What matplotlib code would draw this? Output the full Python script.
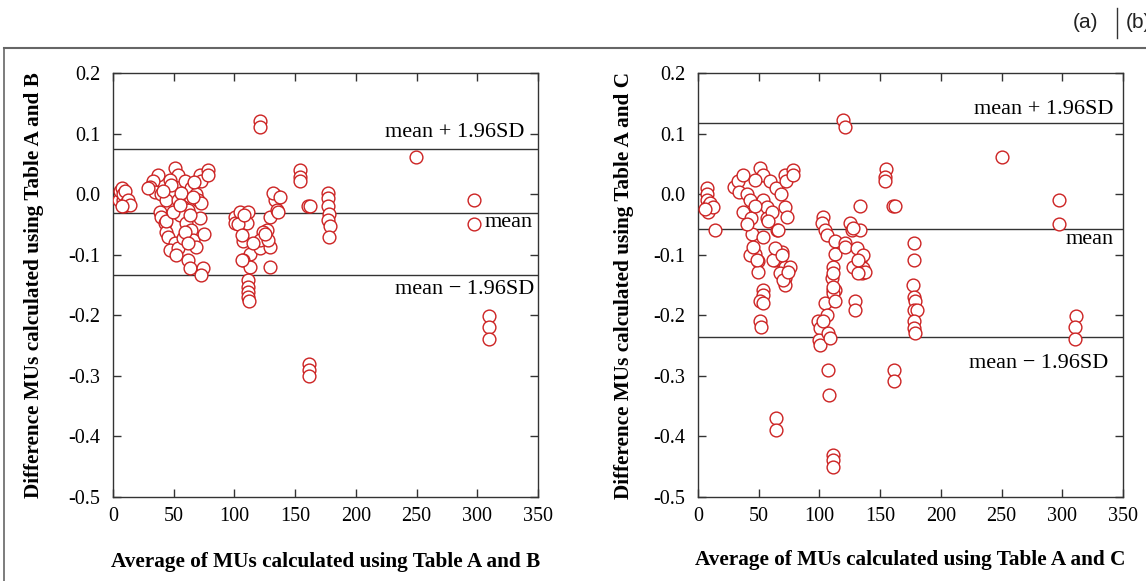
import matplotlib
matplotlib.use("Agg")
import matplotlib.pyplot as plt
from matplotlib.lines import Line2D

plt.rcParams['font.family'] = ['Liberation Serif', 'DejaVu Serif']
plt.rcParams['axes.unicode_minus'] = False

# ---------------- data: panel (a) Table A vs B ----------------
ab_x = [5, 6, 7, 8, 8.5, 9, 10, 11, 12, 14, 7,
        37.1, 32.9, 30.2, 34.3, 39.8, 43.9, 38.5, 39.8, 42.5, 43.9, 45.3, 50.8, 46.6, 53.5,
        52.1, 61.8, 63.2, 74.1, 72.7,
        50.8, 53.5, 46.7, 59.0, 64.5, 71.4, 72.7, 78.3, 78.5, 68.6, 53.5, 57.7, 61.8, 70.0,
        72.7, 71.4, 54.9, 60.4, 64.5, 57.7, 65.9, 68.6, 59.0, 29.0, 48.0, 56.0, 66.0, 44.0,
        49.0, 63.0, 67.0, 75.0, 41.0, 55.0, 62.0,
        100.5, 100.5, 104.6, 111.5, 110.0, 107.3, 112.8, 107.3, 112.8, 111.5, 111.5, 111.5,
        111.5, 112.0, 103.0, 106.0, 106.0, 121.0, 129.0, 126.6, 123.8, 129.3, 133.4, 133.4,
        134.8, 136.2, 129.3, 121.0, 128.0, 115.6, 132.0, 137.5, 121.0, 121.0, 108.0, 125.2,
        153.7, 153.7, 153.7, 160.9, 162.0,
        177.4, 177.4, 177.4, 178.0, 177.4, 179.0, 178.0,
        161.0, 161.5, 161.5,
        249.6, 297.4, 297.4, 310.0, 310.0, 310.0]
ab_y = [-0.010, 0.005, 0.010, -0.010, 0.000, -0.020, 0.005, -0.015, -0.010, -0.018, -0.020,
        0.032, 0.021, 0.012, 0.004, 0.000, -0.010, -0.029, -0.037, -0.048, -0.062, -0.070,
        -0.081, -0.092, -0.089, -0.100, -0.109, -0.122, -0.122, -0.133,
        0.043, 0.032, 0.023, 0.021, 0.010, 0.032, 0.021, 0.040, 0.032, 0.000, -0.010,
        -0.021, -0.026, -0.010, -0.015, -0.040, -0.034, -0.048, -0.059, -0.073, -0.076,
        -0.087, -0.062, 0.010, 0.015, 0.002, -0.005, -0.045, -0.030, -0.035, 0.020,
        -0.065, 0.005, -0.018, -0.080,
        -0.037, -0.048, -0.029, -0.029, -0.048, -0.078, -0.098, -0.109, -0.120, -0.142,
        -0.153, -0.161, -0.169, -0.177, -0.050, -0.067, -0.109, -0.089, -0.087, -0.059,
        -0.062, -0.037, -0.001, -0.010, -0.026, -0.029, -0.120, -0.076, -0.076, -0.081,
        0.002, -0.005, 0.120, 0.111, -0.035, -0.065,
        0.040, 0.029, 0.021, -0.019, -0.020,
        0.002, -0.007, -0.020, -0.033, -0.043, -0.052, -0.071,
        -0.280, -0.290, -0.300,
        0.061, -0.010, -0.050, -0.201, -0.220, -0.239]

# ---------------- data: panel (b) Table A vs C ----------------
ac_x = [7, 7, 7, 8, 8.5, 10, 12.6, 14, 6,
        30.0, 33.0, 37.0, 34.0, 40.0, 50.8, 53.5, 46.7, 59.0, 64.5, 71.4, 72.7, 78.3, 78.5,
        68.6, 42.8, 53.5, 56.6, 71.7, 73.1, 37.3, 56.6, 64.8, 44.2, 53.8, 47.0, 49.7, 68.9,
        63.4, 71.7, 49.7, 71.7, 71.7, 53.8, 53.8, 51.0, 53.8, 51.0, 51.6, 42.8, 45.6, 48.3,
        62.0, 67.5, 70.3, 75.8, 74.4, 63.4, 68.9, 64.2, 64.2, 44.0, 40.0, 61.0, 66.0, 58.0,
        47.0,
        103.2, 101.9, 104.6, 106.0, 112.9, 112.9, 111.4, 110.1, 111.4, 111.4, 104.6, 125.2,
        126.6, 133.4, 121.1, 121.1, 130.7, 133.4, 129.2, 136.2, 134.8, 129.3, 129.3, 99.1,
        100.5, 99.9, 100.5, 106.0, 107.3, 108.7, 103.2, 111.4, 112.9, 111.4, 112.9, 111.4,
        136.2, 137.5, 128.0, 132.0, 128.0, 132.0, 107.3, 108.2, 111.4, 111.4, 111.4, 119.7,
        121.0, 133.4,
        154.9, 154.0, 154.0, 160.9, 162.0, 161.0, 161.0,
        178.2, 177.6, 177.0, 178.2, 179.0, 177.6, 180.3, 178.2, 178.2, 179.0,
        250.1, 297.6, 297.6, 311.0, 310.5, 310.5]
ac_y = [0.010, 0.000, -0.010, -0.020, -0.029, -0.015, -0.021, -0.059, -0.025,
        0.012, 0.021, 0.032, 0.004, 0.000, 0.043, 0.032, 0.023, 0.021, 0.010, 0.032, 0.021,
        0.040, 0.032, 0.000, -0.010, -0.010, -0.021, -0.021, -0.037, -0.029, -0.040, -0.059,
        -0.065, -0.070, -0.098, -0.111, -0.095, -0.109, -0.120, -0.129, -0.139, -0.150,
        -0.158, -0.166, -0.177, -0.180, -0.210, -0.220, -0.100, -0.087, -0.109, -0.109,
        -0.130, -0.142, -0.120, -0.128, -0.089, -0.100, -0.370, -0.389, -0.040, -0.050,
        -0.030, -0.060, -0.045, -0.020,
        -0.037, -0.048, -0.059, -0.067, -0.078, -0.098, -0.120, -0.139, -0.158, -0.175,
        -0.180, -0.048, -0.059, -0.059, -0.081, -0.087, -0.089, -0.109, -0.120, -0.122,
        -0.130, -0.177, -0.191, -0.210, -0.221, -0.240, -0.249, -0.199, -0.230, -0.238,
        -0.210, -0.131, -0.158, -0.164, -0.177, -0.153, -0.100, -0.128, -0.120, -0.130,
        -0.056, -0.109, -0.290, -0.331, -0.430, -0.439, -0.450, 0.122, 0.111, -0.019,
        0.041, 0.029, 0.021, -0.019, -0.019, -0.290, -0.309,
        -0.080, -0.109, -0.150, -0.169, -0.177, -0.191, -0.191, -0.210, -0.221, -0.229,
        0.061, -0.010, -0.050, -0.201, -0.220, -0.239]

# agreement lines (mean + 1.96 SD, mean, mean - 1.96 SD)
ab_lines = [0.075, -0.031, -0.134]
ac_lines = [0.117, -0.058, -0.236]

x_ticks = [0, 50, 100, 150, 200, 250, 300, 350]
y_ticks = [0.2, 0.1, 0.0, -0.1, -0.2, -0.3, -0.4, -0.5]

panels = [
    dict(x=ab_x, y=ab_y, lines=ab_lines,
         xlabel="Average of MUs calculated using Table A and B",
         ylabel="Difference MUs calculated using Table A and B",
         left=113, ylab_x=-0.163, xlab_y=-0.13,
         ann=[("mean + 1.96SD", 339, 0.1015), ("mean", 346, -0.046),
              ("mean \u2212 1.96SD", 347, -0.158)]),
    dict(x=ac_x, y=ac_y, lines=ac_lines,
         xlabel="Average of MUs calculated using Table A and C",
         ylabel="Difference MUs calculated using Table A and C",
         left=698, ylab_x=-0.15, xlab_y=-0.125,
         ann=[("mean + 1.96SD", 342, 0.139), ("mean", 342, -0.0756),
              ("mean \u2212 1.96SD", 338, -0.279)]),
]

SERIF = ['Liberation Serif', 'DejaVu Serif']
W, H = 1146, 581
fig = plt.figure(figsize=(W / 100, H / 100), dpi=100)

for p in panels:
    ax = fig.add_axes([p['left'] / W, 1 - 497 / H, 425 / W, 424 / H])
    for v in p['lines']:
        ax.axhline(v, color='#333333', lw=1.0, zorder=2)
    ax.plot(p['x'], p['y'], linestyle='none', marker='o', ms=9.2,
            mfc='white', mec='#cc2222', mew=1.0, zorder=3)
    ax.set_xlim(0, 350)
    ax.set_ylim(-0.5, 0.2)
    ax.set_xticks(x_ticks)
    ax.set_yticks(y_ticks)
    ax.set_xticklabels([str(t) for t in x_ticks], family=SERIF, fontsize=14.5)
    ax.set_yticklabels(["%.1f" % t for t in y_ticks], family=SERIF, fontsize=14.5)
    ax.tick_params(direction='in', length=6, width=1.0, color='#333333',
                   top=True, right=True)
    ax.tick_params(axis='y', pad=9)
    ax.tick_params(axis='x', pad=7)
    for s in ax.spines.values():
        s.set_color('#333333')
        s.set_linewidth(1.0)
    ax.set_xlabel(p['xlabel'], fontsize=15.3, fontweight='bold', family=SERIF)
    ax.set_ylabel(p['ylabel'], fontsize=15.3, fontweight='bold', family=SERIF)
    ax.xaxis.set_label_coords(0.5, p['xlab_y'])
    ax.yaxis.set_label_coords(p['ylab_x'], 0.5)
    for txt, xx, yy in p['ann']:
        ax.text(xx, yy, txt, ha='right', va='center', fontsize=16, family=SERIF,
                zorder=4)

# page decorations
fig.add_artist(Line2D([4 / W, 1], [1 - 48 / H, 1 - 48 / H], transform=fig.transFigure,
                      color='#666666', lw=1.5))
fig.add_artist(Line2D([4 / W, 4 / W], [0, 1 - 48 / H], transform=fig.transFigure,
                      color='#666666', lw=1.2))
fig.text(1086 / W, 1 - 22 / H, "(a)", ha='center', va='center', fontsize=15,
         family=['Liberation Sans', 'DejaVu Sans'], color='#222222')
fig.add_artist(Line2D([1117 / W, 1117 / W], [1 - 8 / H, 1 - 38 / H],
                      transform=fig.transFigure, color='#333333', lw=1.0))
fig.text(1126 / W, 1 - 22 / H, "(b)", ha='left', va='center', fontsize=15,
         family=['Liberation Sans', 'DejaVu Sans'], color='#222222')

fig.savefig("out.png", dpi=100)
